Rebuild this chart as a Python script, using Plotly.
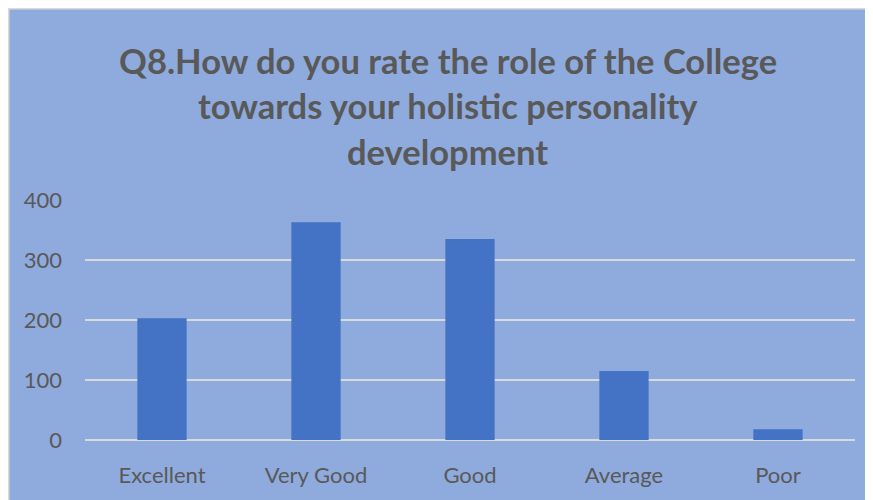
import plotly.graph_objects as go

categories = ["Excellent", "Very Good", "Good", "Average", "Poor"]
responses = [203, 363, 335, 115, 18]
title_lines = [
    "Q8.How do you rate the role of the College",
    "towards your holistic personality",
    "development",
]
y_ticks = [0, 100, 200, 300, 400]

bg = "#8FAADC"
text_col = "#595959"

fig = go.Figure(go.Bar(x=categories, y=responses, marker_color="#4472C4",
                       marker_line_width=0))

# title as separate lines to get the wide line spacing
for i, line in enumerate(title_lines):
    fig.add_annotation(text="<b>" + line + "</b>", x=0.471, y=1.583 - i * 0.19,
                       xref="paper", yref="paper", showarrow=False,
                       xanchor="center", yanchor="middle",
                       font=dict(family="Lato", size=34.5, color=text_col))

# thin chart-area border
fig.add_shape(type="rect", xref="paper", yref="paper",
              x0=-0.099, x1=1.2, y0=-0.4, y1=1.797,
              line=dict(color="#D9D9D9", width=1.5), layer="below")

fig.update_layout(
    width=873, height=500,
    margin=dict(l=77, r=26, t=192, b=68),
    paper_bgcolor=bg, plot_bgcolor=bg,
    bargap=0.68,
    showlegend=False,
    font=dict(family="Lato", size=22, color=text_col),
)
fig.update_xaxes(showgrid=False, showline=False, ticks="",
                 ticklabelstandoff=20)
fig.update_yaxes(range=[0, 400], tickvals=y_ticks, showgrid=True,
                 gridcolor="#D9D9D9", gridwidth=1.5, zeroline=True,
                 zerolinecolor="#D9D9D9", zerolinewidth=1.5,
                 showline=False, ticks="", ticklabelstandoff=22)

fig.write_html(
    "out.html",
    post_script="document.documentElement.style.overflow='hidden';"
                "document.body.style.overflow='hidden';",
)
